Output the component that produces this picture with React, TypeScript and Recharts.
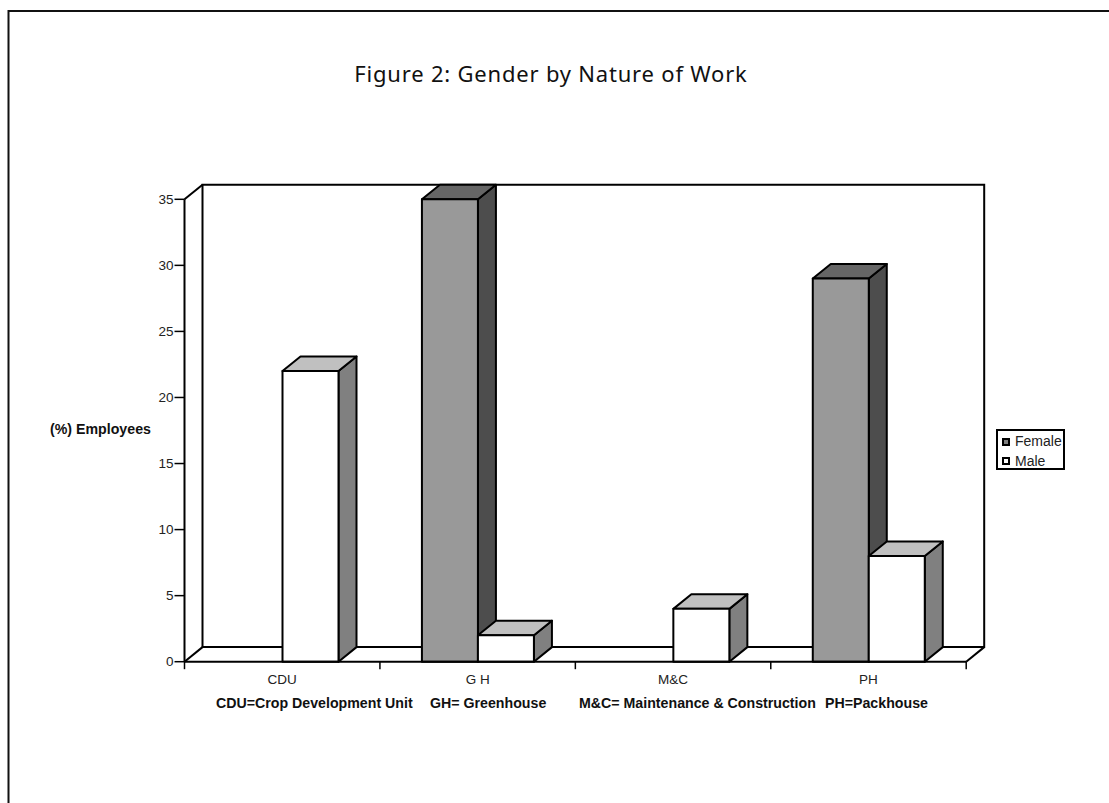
import React from 'react';
import { BarChart, Bar, XAxis, YAxis, Legend } from 'recharts';

const categories = ['CDU', 'G H', 'M&C', 'PH'];
const femaleValues = [0, 35, 0, 29];
const maleValues = [22, 2, 4, 8];
const yTicks = [0, 5, 10, 15, 20, 25, 30, 35];

const chartData = categories.map((name, i) => ({
    name,
    Female: femaleValues[i],
    Male: maleValues[i],
}));

const WIDTH = 1109;
const HEIGHT = 803;
const LEFT = 184.5;
const RIGHT = 966.2;
const TOP = 199.3;
const BOTTOM = 661.7;
const DX = 18;
const DY = 14.6;
const FONT = '"Liberation Sans", Arial, sans-serif';

const shades: Record<string, { top: string; side: string }> = {
    Female: { top: '#666666', side: '#4d4d4d' },
    Male: { top: '#c0c0c0', side: '#808080' },
};

// front face plus the top and side faces of the 3D column
function Bar3D(props: any) {
    const { x, y, width, height, fill, dataKey } = props;
    if (!height || height <= 0) return null;
    const s = shades[dataKey];
    const r = x + width;
    const b = y + height;
    return (
        <g stroke="#000" strokeWidth={2} strokeLinejoin="round">
            <polygon points={`${r},${y} ${r + DX},${y - DY} ${r + DX},${b - DY} ${r},${b}`} fill={s.side} />
            <polygon points={`${x},${y} ${x + DX},${y - DY} ${r + DX},${y - DY} ${r},${y}`} fill={s.top} />
            <rect x={x} y={y} width={width} height={height} fill={fill} />
        </g>
    );
}

function CategoryTick(props: any) {
    const { x, payload, index } = props;
    const band = (RIGHT - LEFT) / categories.length;
    return (
        <g>
            <line x1={x - band / 2} x2={x - band / 2} y1={BOTTOM} y2={BOTTOM + 7.5} stroke="#000" strokeWidth={1.5} />
            {index === categories.length - 1 && (
                <line x1={x + band / 2} x2={x + band / 2} y1={BOTTOM} y2={BOTTOM + 7.5} stroke="#000" strokeWidth={1.5} />
            )}
            <text x={x} y={BOTTOM + 22.5} textAnchor="middle" fontFamily={FONT} fontSize={13.5} fill="#222">
                {payload.value}
            </text>
        </g>
    );
}

function LegendBox({ payload }: any) {
    return (
        <div
            style={{
                width: 69,
                height: 41,
                boxSizing: 'border-box',
                border: '2px solid #000',
                background: '#fff',
                padding: '1px 0 0 4px',
                fontFamily: FONT,
                fontSize: 14,
                lineHeight: '19.5px',
                color: '#222',
                whiteSpace: 'nowrap',
            }}
        >
            {(payload || []).map((item: any) => (
                <div key={item.value} style={{ display: 'flex', alignItems: 'center' }}>
                    <span
                        style={{
                            display: 'inline-block',
                            width: 8,
                            height: 8,
                            boxSizing: 'border-box',
                            border: '2px solid #000',
                            background: item.value === 'Female' ? '#808080' : '#fff',
                            marginRight: 5,
                        }}
                    />
                    {item.value}
                </div>
            ))}
        </div>
    );
}

export default function App() {
    return (
        <div style={{ position: 'absolute', left: 0, top: 0, width: WIDTH, height: HEIGHT, background: '#fff' }}>
            <BarChart
                width={WIDTH}
                height={HEIGHT}
                data={chartData}
                margin={{ top: TOP, right: WIDTH - RIGHT, bottom: HEIGHT - BOTTOM - 40, left: LEFT - 40 }}
                barCategoryGap={42}
                barGap={0}
            >
                {/* page frame, cut by the bottom and right of the picture */}
                <polyline points={`${WIDTH},11 8.5,11 8.5,${HEIGHT}`} fill="none" stroke="#111" strokeWidth={2} />

                <text x={551} y={82} textAnchor="middle" fontFamily='"Noto Sans", sans-serif' fontSize={22} fill="#111" letterSpacing={0.8}>
                    Figure 2: Gender by Nature of Work
                </text>
                <text x={50} y={434} fontFamily={FONT} fontSize={14.2} fontWeight="bold" fill="#111">(%) Employees</text>
                <g fontFamily={FONT} fontSize={14.2} fontWeight="bold" fill="#111">
                    <text x={216} y={708}>CDU=Crop Development Unit</text>
                    <text x={430} y={708}>GH= Greenhouse</text>
                    <text x={579} y={708}>M&amp;C= Maintenance &amp; Construction</text>
                    <text x={825} y={708}>PH=Packhouse</text>
                </g>

                {/* back wall and floor of the 3D box */}
                <g fill="none" stroke="#000" strokeWidth={2}>
                    <polygon points={`${LEFT + DX},${TOP - DY} ${RIGHT + DX},${TOP - DY} ${RIGHT + DX},${BOTTOM - DY} ${LEFT + DX},${BOTTOM - DY}`} />
                    <line x1={LEFT} y1={TOP} x2={LEFT + DX} y2={TOP - DY} />
                    <line x1={LEFT} y1={BOTTOM} x2={LEFT + DX} y2={BOTTOM - DY} />
                    <line x1={RIGHT} y1={BOTTOM} x2={RIGHT + DX} y2={BOTTOM - DY} />
                </g>

                <XAxis
                    dataKey="name"
                    height={40}
                    axisLine={{ stroke: '#000', strokeWidth: 2 }}
                    tickLine={false}
                    interval={0}
                    tick={<CategoryTick />}
                />
                <YAxis
                    width={40}
                    domain={[0, 35]}
                    ticks={yTicks}
                    interval={0}
                    axisLine={{ stroke: '#000', strokeWidth: 2 }}
                    tickLine={{ stroke: '#000', strokeWidth: 1.5 }}
                    tickSize={10}
                    tickMargin={1}
                    tick={{ fontFamily: FONT, fontSize: 13.5, fill: '#222' }}
                />
                <Legend
                    layout="vertical"
                    align="center"
                    verticalAlign="middle"
                    content={<LegendBox />}
                    wrapperStyle={{ left: 996, top: 429, width: 69, height: 41, margin: 0 }}
                />
                <Bar dataKey="Female" fill="#999999" isAnimationActive={false} shape={<Bar3D dataKey="Female" />} />
                <Bar dataKey="Male" fill="#ffffff" isAnimationActive={false} shape={<Bar3D dataKey="Male" />} />
            </BarChart>
        </div>
    );
}
